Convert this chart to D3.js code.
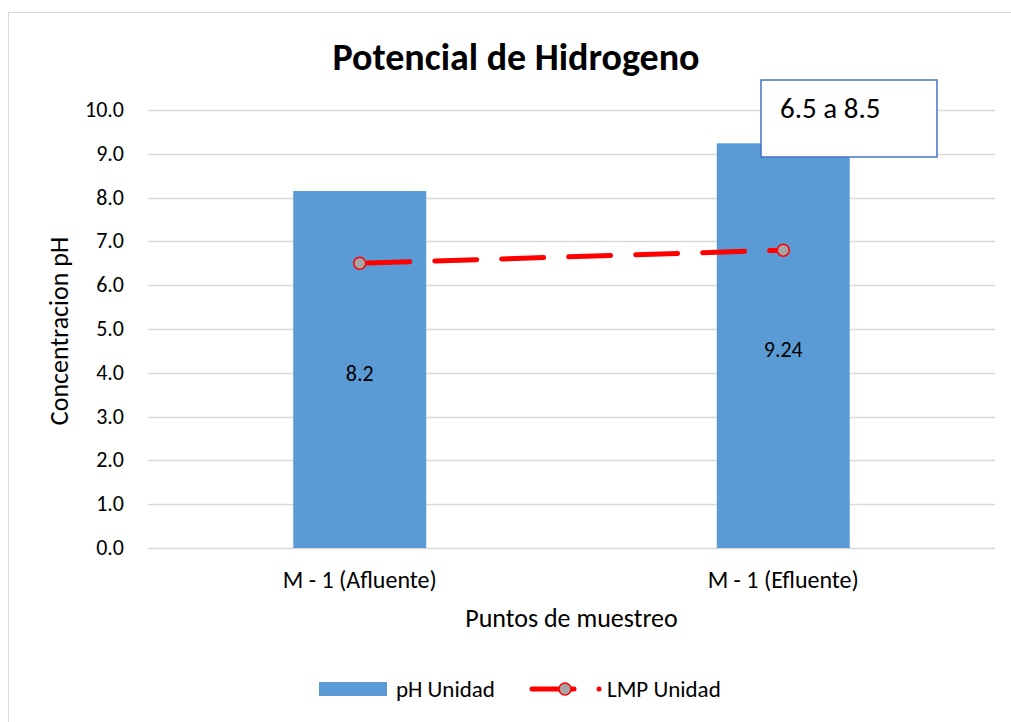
<!DOCTYPE html>
<meta charset="utf-8">
<script src="https://cdn.jsdelivr.net/npm/d3@7"></script>
<style>
	body { margin: 0; background: #fff; }
	text { font-family: Carlito, Lato, "Open Sans", sans-serif; fill: #000; }
</style>
<div id="vis"></div>
<script>
	// data
	const categories = ["M - 1 (Afluente)", "M - 1 (Efluente)"];
	const phValues = [8.15, 9.24];
	const phLabels = ["8.2", "9.24"];
	const lmpValues = [6.5, 6.8];
	const yTicks = [0, 1, 2, 3, 4, 5, 6, 7, 8, 9, 10];

	const width = 1011, height = 722;
	const margin = { left: 148, right: 16, top: 110, bottom: 174 };

	const svg = d3.select("#vis").append("svg")
		.attr("width", width)
		.attr("height", height);

	// outer chart border
	svg.append("rect")
		.attr("x", 8.5).attr("y", 12.5)
		.attr("width", 1100).attr("height", 900)
		.attr("fill", "none")
		.attr("stroke", "#d9d9d9")
		.attr("stroke-width", 1);

	const x = d3.scaleBand()
		.domain(categories)
		.range([margin.left, width - margin.right])
		.paddingInner(0.686)
		.paddingOuter(0.343);

	const y = d3.scaleLinear()
		.domain([0, 10])
		.range([height - margin.bottom, margin.top]);

	// gridlines
	svg.append("g").selectAll("line").data(yTicks)
		.enter().append("line")
		.attr("x1", margin.left).attr("x2", width - margin.right)
		.attr("y1", d => Math.round(y(d)) + 0.5)
		.attr("y2", d => Math.round(y(d)) + 0.5)
		.attr("stroke", "#d9d9d9")
		.attr("stroke-width", 1.3);

	// y tick labels
	svg.append("g").selectAll("text").data(yTicks)
		.enter().append("text")
		.attr("x", margin.left - 24)
		.attr("y", d => y(d) + 7)
		.attr("text-anchor", "end")
		.style("font-size", "22px")
		.text(d => d.toFixed(1));

	// bars
	svg.append("g").selectAll("rect").data(phValues)
		.enter().append("rect")
		.attr("x", (d, i) => x(categories[i]))
		.attr("y", d => y(d))
		.attr("width", x.bandwidth())
		.attr("height", d => y(0) - y(d))
		.attr("fill", "#5b9bd5");

	// bar labels
	svg.append("g").selectAll("text").data(phValues)
		.enter().append("text")
		.attr("x", (d, i) => x(categories[i]) + x.bandwidth() / 2)
		.attr("y", d => y(d / 2) + 11)
		.attr("text-anchor", "middle")
		.style("font-size", "22px")
		.text((d, i) => phLabels[i]);

	// x tick labels
	svg.append("g").selectAll("text").data(categories)
		.enter().append("text")
		.attr("x", d => x(d) + x.bandwidth() / 2)
		.attr("y", y(0) + 40)
		.attr("text-anchor", "middle")
		.style("font-size", "24px")
		.text(d => d);

	// LMP line
	const line = d3.line()
		.x((d, i) => x(categories[i]) + x.bandwidth() / 2)
		.y(d => y(d));

	svg.append("path")
		.datum(lmpValues)
		.attr("d", line)
		.attr("fill", "none")
		.attr("stroke", "#ff0000")
		.attr("stroke-width", 5)
		.attr("stroke-linecap", "round")
		.attr("stroke-dasharray", "42,25")
		.attr("stroke-dashoffset", -8);

	svg.append("g").selectAll("circle").data(lmpValues)
		.enter().append("circle")
		.attr("cx", (d, i) => x(categories[i]) + x.bandwidth() / 2)
		.attr("cy", d => y(d))
		.attr("r", 6)
		.attr("fill", "#a5a5a5")
		.attr("stroke", "#ff0000")
		.attr("stroke-width", 1.5);

	// title
	svg.append("text")
		.attr("x", 516).attr("y", 70)
		.attr("text-anchor", "middle")
		.style("font-size", "38px")
		.style("font-weight", "bold")
		.text("Potencial de Hidrogeno");

	// axis titles
	svg.append("text")
		.attr("transform", "translate(68," + (y(5) + 2) + ") rotate(-90)")
		.attr("text-anchor", "middle")
		.style("font-size", "26px")
		.text("Concentracion pH");

	svg.append("text")
		.attr("x", (margin.left + width - margin.right) / 2)
		.attr("y", 627)
		.attr("text-anchor", "middle")
		.style("font-size", "26px")
		.text("Puntos de muestreo");

	// annotation box
	svg.append("rect")
		.attr("x", 761).attr("y", 80)
		.attr("width", 176).attr("height", 77)
		.attr("fill", "#fff")
		.attr("stroke", "#4472c4")
		.attr("stroke-width", 1.5);
	svg.append("text")
		.attr("x", 780).attr("y", 118)
		.style("font-size", "29px")
		.text("6.5 a 8.5");

	// legend
	const lg = svg.append("g");
	lg.append("rect")
		.attr("x", 319).attr("y", 682)
		.attr("width", 68).attr("height", 14)
		.attr("fill", "#5b9bd5");
	lg.append("text")
		.attr("x", 396).attr("y", 697)
		.style("font-size", "23px")
		.text("pH Unidad");
	lg.append("line")
		.attr("x1", 532).attr("x2", 574)
		.attr("y1", 689).attr("y2", 689)
		.attr("stroke", "#ff0000")
		.attr("stroke-width", 5)
		.attr("stroke-linecap", "round");
	lg.append("circle")
		.attr("cx", 565).attr("cy", 689).attr("r", 6)
		.attr("fill", "#a5a5a5")
		.attr("stroke", "#ff0000")
		.attr("stroke-width", 1.5);
	lg.append("circle")
		.attr("cx", 599).attr("cy", 689).attr("r", 2.5)
		.attr("fill", "#ff0000");
	lg.append("text")
		.attr("x", 607).attr("y", 697)
		.style("font-size", "23px")
		.text("LMP Unidad");
</script>
